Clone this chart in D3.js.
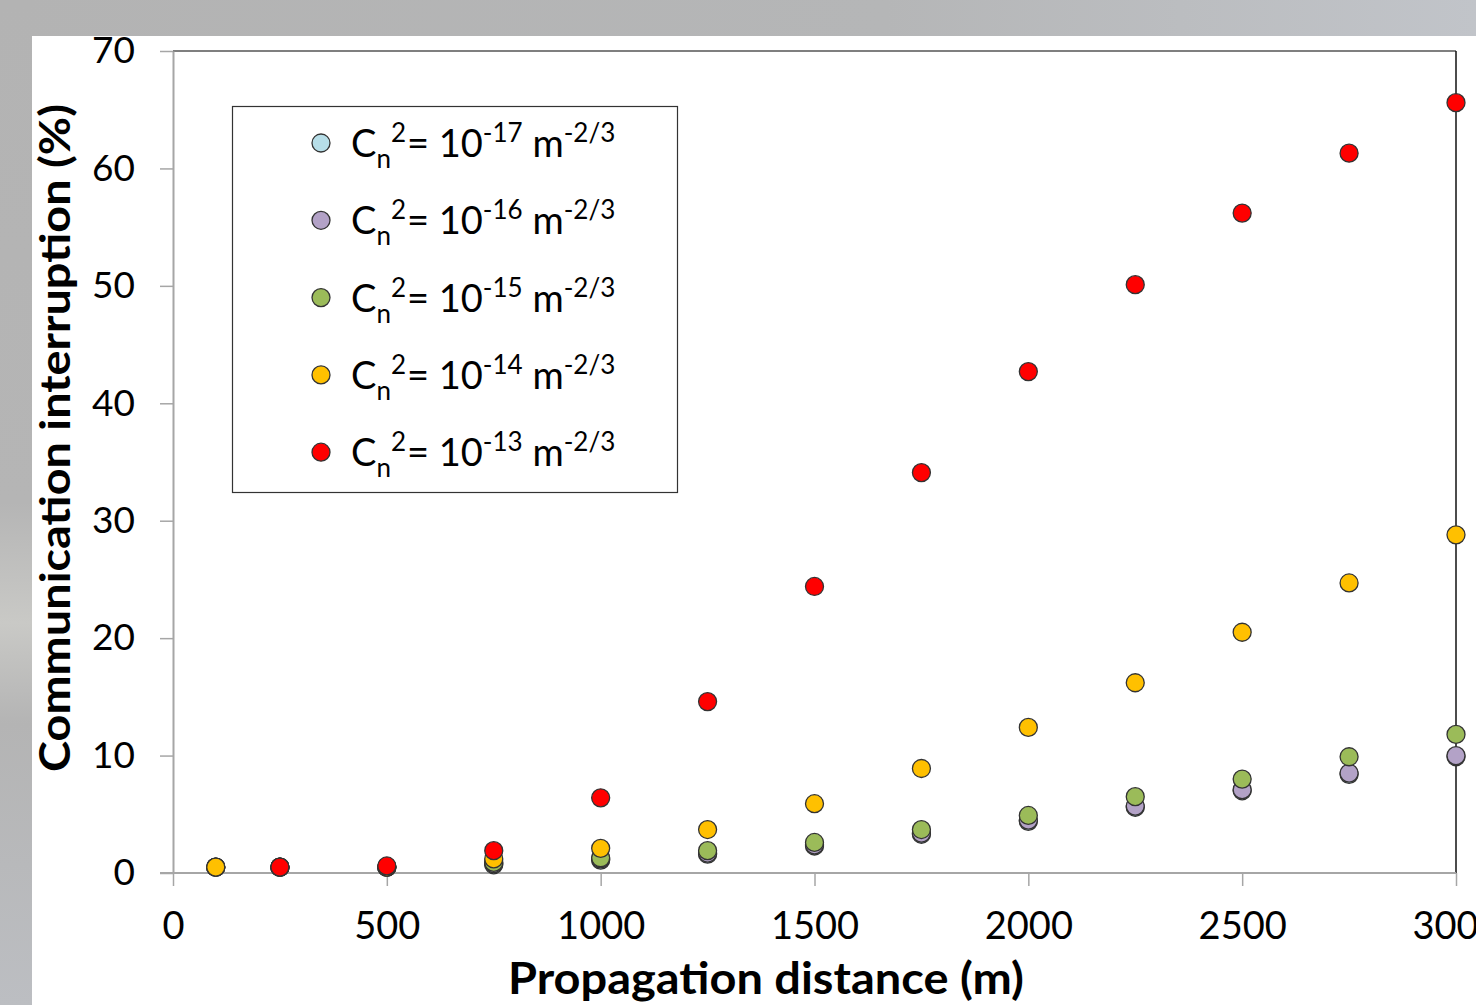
<!DOCTYPE html>
<html>
<head>
<meta charset="utf-8">
<script src="https://cdn.jsdelivr.net/npm/d3@7"></script>
<style>
  body { margin: 0; background: #fff; }
  svg { display: block; }
</style>
</head>
<body>
<svg id="chart"></svg>
<script>
// distances (m)
const distances = [100, 250, 500, 750, 1000, 1250, 1500, 1750, 2000, 2250, 2500, 2750, 3000];

// communication interruption (%) per Cn2 level
const cn17 = [0.5, 0.5, 0.5, 0.7, 1.1, 1.6, 2.3, 3.3, 4.4, 5.6, 7.0, 8.4, 9.9];
const cn16 = [0.5, 0.5, 0.5, 0.8, 1.2, 1.7, 2.4, 3.4, 4.5, 5.7, 7.1, 8.5, 10.0];
const cn15 = [0.5, 0.5, 0.5, 0.9, 1.3, 1.9, 2.6, 3.7, 4.9, 6.5, 8.0, 9.9, 11.8];
const cn14 = [0.5, 0.5, 0.5, 1.2, 2.1, 3.7, 5.9, 8.9, 12.4, 16.2, 20.5, 24.7, 28.8];
const cn13 = [null, 0.5, 0.6, 1.9, 6.4, 14.6, 24.4, 34.1, 42.7, 50.1, 56.2, 61.3, 65.6];

const seriesNames = ['-17', '-16', '-15', '-14', '-13'];
const seriesColors = ['#b7dee8', '#b3a2c7', '#9bbb59', '#ffc000', '#ff0000'];
const seriesValues = [cn17, cn16, cn15, cn14, cn13];

const xTicks = [0, 500, 1000, 1500, 2000, 2500, 3000];
const yTicks = [0, 10, 20, 30, 40, 50, 60, 70];

const width = 1476;
const height = 1005;
const plot = { left: 173, right: 1456, top: 51, bottom: 873 };
const font = 'Lato, "Open Sans", sans-serif';

const svg = d3.select('#chart')
    .attr('width', width)
    .attr('height', height);

// slide background showing round the chart
const defs = svg.append('defs');
const topGrad = defs.append('linearGradient').attr('id', 'topGrad');
topGrad.append('stop').attr('offset', '0%').attr('stop-color', '#b3b3b3');
topGrad.append('stop').attr('offset', '60%').attr('stop-color', '#b5b6b7');
topGrad.append('stop').attr('offset', '100%').attr('stop-color', '#c1c4c9');
const leftGrad = defs.append('linearGradient').attr('id', 'leftGrad')
    .attr('x1', 0).attr('y1', 0).attr('x2', 0).attr('y2', 1);
leftGrad.append('stop').attr('offset', '0%').attr('stop-color', '#b3b3b3');
leftGrad.append('stop').attr('offset', '50%').attr('stop-color', '#b5b5b5');
leftGrad.append('stop').attr('offset', '62%').attr('stop-color', '#c9c9c6');
leftGrad.append('stop').attr('offset', '72%').attr('stop-color', '#b4b4b4');
leftGrad.append('stop').attr('offset', '100%').attr('stop-color', '#bcbec2');

svg.append('rect').attr('x', 0).attr('y', 0).attr('width', width).attr('height', 36)
    .attr('fill', 'url(#topGrad)');
svg.append('rect').attr('x', 0).attr('y', 0).attr('width', 32).attr('height', height)
    .attr('fill', 'url(#leftGrad)');

const x = d3.scaleLinear().domain([0, 3000]).range([plot.left, plot.right]);
const y = d3.scaleLinear().domain([0, 70]).range([plot.bottom, plot.top]);

// frame: top and right lines
svg.append('line')
    .attr('x1', plot.left).attr('x2', plot.right)
    .attr('y1', plot.top).attr('y2', plot.top)
    .attr('stroke', '#555').attr('stroke-width', 1.5);
svg.append('line')
    .attr('x1', plot.right).attr('x2', plot.right)
    .attr('y1', plot.top).attr('y2', plot.bottom)
    .attr('stroke', '#111').attr('stroke-width', 1.5);

// y axis
const yAxis = svg.append('g')
    .attr('transform', `translate(${plot.left},0)`)
    .call(d3.axisLeft(y).tickValues(yTicks).tickFormat(d3.format('d'))
        .tickSize(13).tickPadding(25).tickSizeOuter(0));
yAxis.select('.domain').attr('stroke', '#a6a6a6').attr('stroke-width', 2);
yAxis.selectAll('.tick line').attr('stroke', '#a6a6a6').attr('stroke-width', 1.5);
yAxis.selectAll('.tick text')
    .attr('font-family', font)
    .attr('font-size', 37)
    .attr('fill', '#000');

// x axis
const xAxis = svg.append('g')
    .attr('transform', `translate(0,${plot.bottom})`)
    .call(d3.axisBottom(x).tickValues(xTicks).tickFormat(d3.format('d'))
        .tickSize(13).tickPadding(26).tickSizeOuter(0));
xAxis.select('.domain').attr('stroke', '#a6a6a6').attr('stroke-width', 2)
    .attr('d', `M${plot.left - 13},0H${plot.right}`);
xAxis.selectAll('.tick line').attr('stroke', '#a6a6a6').attr('stroke-width', 1.5);
xAxis.selectAll('.tick text')
    .attr('font-family', font)
    .attr('font-size', 38)
    .attr('fill', '#000');

// axis titles
svg.append('text')
    .attr('transform', 'translate(70,438) rotate(-90)')
    .attr('text-anchor', 'middle')
    .attr('font-family', font)
    .attr('font-weight', 'bold')
    .attr('font-size', 42)
    .attr('textLength', 668)
    .attr('lengthAdjust', 'spacingAndGlyphs')
    .text('Communication interruption (%)');

svg.append('text')
    .attr('x', 766).attr('y', 994)
    .attr('text-anchor', 'middle')
    .attr('font-family', font)
    .attr('font-weight', 'bold')
    .attr('font-size', 44)
    .attr('textLength', 516)
    .attr('lengthAdjust', 'spacingAndGlyphs')
    .text('Propagation distance (m)');

// points, series in drawing order
seriesValues.forEach((vals, i) => {
    const pts = distances.map((d, j) => ({ d, v: vals[j] })).filter(p => p.v !== null);
    svg.append('g').selectAll('circle')
        .data(pts)
        .enter()
        .append('circle')
        .attr('cx', p => x(p.d))
        .attr('cy', p => y(p.v))
        .attr('r', 9)
        .attr('fill', seriesColors[i])
        .attr('stroke', '#333')
        .attr('stroke-width', 1.3);
});

// legend
const legend = svg.append('g');
legend.append('rect')
    .attr('x', 232.5).attr('y', 106.5)
    .attr('width', 445).attr('height', 386)
    .attr('fill', '#fff')
    .attr('stroke', '#333').attr('stroke-width', 1.2);

const legendRows = legend.selectAll('g.row')
    .data(seriesNames)
    .enter()
    .append('g')
    .attr('class', 'row')
    .attr('transform', (d, i) => `translate(0,${143 + i * 77.3})`);

legendRows.append('circle')
    .attr('cx', 321).attr('cy', 0).attr('r', 9)
    .attr('fill', (d, i) => seriesColors[i])
    .attr('stroke', '#333').attr('stroke-width', 1.3);

const lt = legendRows.append('text')
    .attr('x', 351).attr('y', 14)
    .attr('font-family', font)
    .attr('font-size', 38)
    .attr('fill', '#000');
lt.append('tspan').text('C');
lt.append('tspan').attr('font-size', 26).attr('dy', 11).text('n');
lt.append('tspan').attr('font-size', 26).attr('dy', -26).text('2');
lt.append('tspan').attr('dy', 15).attr('dx', 1).text('= 10');
lt.append('tspan').attr('font-size', 26).attr('dy', -15).text(d => d);
lt.append('tspan').attr('dy', 15).text('\u00a0m');
lt.append('tspan').attr('font-size', 26).attr('dy', -15).text('-2/3');
</script>
</body>
</html>
